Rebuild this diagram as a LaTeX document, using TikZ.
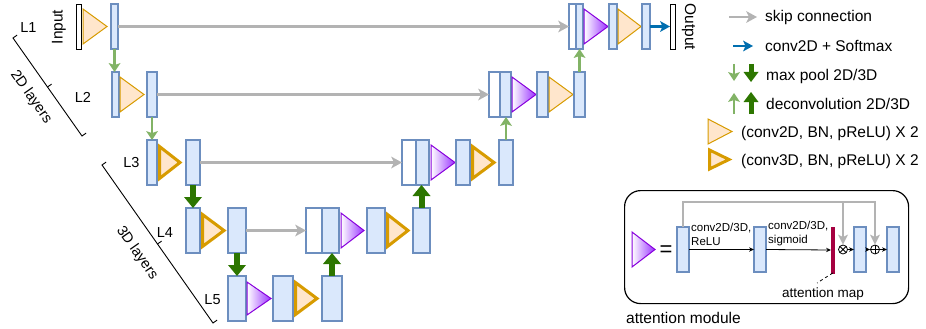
\documentclass[tikz,border=0pt]{standalone}
\usepackage{fontspec}
\setmainfont{Liberation Sans}
\usetikzlibrary{arrows.meta,calc}
\definecolor{barF}{HTML}{DAE8FC}
\definecolor{barS}{HTML}{6C8EBF}
\definecolor{orF}{HTML}{FFE6CC}
\definecolor{orS}{HTML}{D79B00}
\definecolor{grayA}{HTML}{B3B3B3}
\definecolor{lgreen}{HTML}{82B366}
\definecolor{dgreen}{HTML}{2D7600}
\definecolor{blueA}{HTML}{006EAF}
\definecolor{purpS}{HTML}{8800DD}
\definecolor{purpF}{HTML}{9933FF}
\definecolor{attred}{HTML}{A50040}
\begin{document}
\begin{tikzpicture}[x=1pt,y=-1pt,
  bar/.style={draw=barS, fill=barF, line width=1.2pt, inner sep=0pt, outer sep=0pt, minimum height=45pt, anchor=north west},
  wbar/.style={bar, fill=white},
  iobox/.style={bar, draw=black, fill=white, line width=0.9pt, minimum width=5pt},
  tritwo/.style={draw=orS, fill=orF, line width=1pt, line join=miter},
  trithree/.style={draw=orS, fill=orF, line width=3pt, line join=miter},
  attri/.style={draw=purpS, left color=white, right color=purpF, line width=1pt, line join=miter},
  skiparr/.style={draw=grayA, line width=2.5pt, -{Stealth[length=11pt,width=12pt,inset=3pt,line width=0pt]}},
  lgarr/.style={draw=lgreen, line width=2.5pt, -{Stealth[length=9pt,width=12pt,inset=2pt,line width=0pt]}},
  dgarr/.style={draw=dgreen, line width=6pt, -{Triangle[length=11pt,width=18pt,line width=0pt]}},
  dgleg/.style={draw=dgreen, line width=5pt, -{Triangle[length=10pt,width=15pt,line width=0pt]}},
  blarr/.style={draw=blueA, line width=2.5pt, -{Stealth[length=10pt,width=11pt,inset=2.5pt,line width=0pt]}},
  lbl/.style={font=\fontsize{14.5}{17}\selectfont, inner sep=0pt},
  iotxt/.style={font=\fontsize{15.5}{18}\selectfont, inner sep=0pt},
  legtxt/.style={font=\fontsize{15.5}{18}\selectfont, anchor=west, inner sep=0pt},
  smalltxt/.style={font=\fontsize{11.5}{14}\selectfont, align=left, anchor=west, inner sep=0pt},
  thinarr/.style={draw=black, line width=0.8pt, -{Stealth[length=5pt,width=4.5pt,line width=0pt]}},
  attskip/.style={draw=grayA, line width=2pt, -{Stealth[length=10pt,width=10pt,inset=2.5pt,line width=0pt]}},
  brk/.style={draw=black, line width=0.9pt},
  opnode/.style={circle, draw=black, line width=0.8pt, minimum size=9pt, inner sep=0pt, fill=white}
]
\useasboundingbox (0,0) rectangle (926,329);

% ---------- L1 ----------
\node[iobox] (inbox) at (76,4) {};
\node[iotxt, rotate=90] (intxt) at (59,27) {Input};
\draw[tritwo] (83,9) -- (107,26.5) -- (83,44) -- cycle;
\node[bar, minimum width=7pt] (e1a) at (111,4) {};
\node[wbar, minimum width=7pt] (d1w) at (569,4) {};
\node[bar, minimum width=7pt] (d1b) at (576,4) {};
\draw[attri] (584,9) -- (608,26.5) -- (584,44) -- cycle;
\node[bar, minimum width=8pt] (d1c) at (609,4) {};
\draw[tritwo] (618,9) -- (641,26.5) -- (618,44) -- cycle;
\node[bar, minimum width=8pt] (d1d) at (642,4) {};
\node[iobox] (outbox) at (670,4) {};
\node[iotxt, rotate=-90] (outtxt) at (689,27) {Output};

% ---------- L2 ----------
\node[bar, minimum width=7pt] (e2a) at (112,72) {};
\draw[tritwo] (120,77) -- (144,94.5) -- (120,112) -- cycle;
\node[bar, minimum width=10pt] (e2b) at (147,72) {};
\node[wbar, minimum width=11pt] (d2w) at (489,72) {};
\node[bar, minimum width=11pt] (d2b) at (500,72) {};
\draw[attri] (512,77) -- (536,94.5) -- (512,112) -- cycle;
\node[bar, minimum width=11pt] (d2c) at (537,72) {};
\draw[tritwo] (549,77) -- (573,94.5) -- (549,112) -- cycle;
\node[bar, minimum width=11pt] (d2d) at (574,72) {};

% ---------- L3 ----------
\node[bar, minimum width=10pt] (e3a) at (147,140) {};
\draw[trithree] (159.5,146.5) -- (180,162.5) -- (159.5,178.5) -- cycle;
\node[bar, minimum width=14pt] (e3b) at (186,140) {};
\node[wbar, minimum width=14pt] (d3w) at (402,140) {};
\node[bar, minimum width=13pt] (d3b) at (416,140) {};
\draw[attri] (431,145) -- (455,162.5) -- (431,180) -- cycle;
\node[bar, minimum width=14pt] (d3c) at (456,140) {};
\draw[trithree] (472.5,146.5) -- (494,162.5) -- (472.5,178.5) -- cycle;
\node[bar, minimum width=14pt] (d3d) at (499,140) {};

% ---------- L4 ----------
\node[bar, minimum width=14pt] (e4a) at (186,208) {};
\draw[trithree] (202.5,214.5) -- (224,230.5) -- (202.5,246.5) -- cycle;
\node[bar, minimum width=18pt] (e4b) at (228,208) {};
\node[wbar, minimum width=16pt] (d4w) at (306,208) {};
\node[bar, minimum width=17pt] (d4b) at (322,208) {};
\draw[attri] (341,213) -- (364,230.5) -- (341,248) -- cycle;
\node[bar, minimum width=18pt] (d4c) at (367,208) {};
\draw[trithree] (387.5,214.5) -- (408,230.5) -- (387.5,246.5) -- cycle;
\node[bar, minimum width=17pt] (d4d) at (413,208) {};

% ---------- L5 ----------
\node[bar, minimum width=18pt] (e5a) at (228,276) {};
\draw[attri] (247,282) -- (271,298.5) -- (247,315) -- cycle;
\node[bar, minimum width=20pt] (e5b) at (273,276) {};
\draw[trithree] (295.5,282.5) -- (317,298.5) -- (295.5,314.5) -- cycle;
\node[bar, minimum width=20pt] (e5c) at (322,276) {};

% ---------- level labels ----------
\node[lbl] (lab1) at (28.5,28) {L1};
\node[lbl] (lab2) at (83,97) {L2};
\node[lbl] (lab3) at (131.5,163) {L3};
\node[lbl] (lab4) at (165,233) {L4};
\node[lbl] (lab5) at (212.5,300) {L5};

% ---------- brackets ----------
\draw[brk] (17.1,35.1) -- (13,38) -- (82,136) -- (86.1,133.1);
\draw[brk] (47.5,87) -- (51.6,84.1);
\node[lbl, rotate=-55] (txt2d) at (31,97) {2D layers};
\draw[brk] (106.1,162.1) -- (102,165) -- (213,323) -- (217.1,320.1);
\draw[brk] (157.5,244) -- (161.6,241.1);
\node[lbl, rotate=-55] (txt3d) at (137,253) {3D layers};

% ---------- connectors ----------
\draw[skiparr] (e1a.east) -- (d1w.west);
\draw[skiparr] (e2b.east) -- (d2w.west);
\draw[skiparr] (e3b.east) -- (d3w.west);
\draw[skiparr] (e4b.east) -- (d4w.west);
\draw[lgarr] (e1a.south) -- (e1a.south |- e2a.north);
\draw[lgarr] (e2b.south) -- (e2b.south |- e3a.north);
\draw[dgarr] (e3b.south) -- (e3b.south |- e4a.north);
\draw[dgarr] (e4b.south) -- (e4b.south |- e5a.north);
\draw[dgarr] (e5c.north) -- (e5c.north |- d4b.south);
\draw[dgarr] (d4d.north) -- (d4d.north |- d3b.south);
\draw[lgarr] (d3d.north) -- (d3d.north |- d2b.south);
\draw[lgarr] (d2d.north) -- (d2d.north |- d1b.south);
\draw[blarr] (d1d.east) -- (outbox.west);

% ---------- legend ----------
\coordinate (k1a) at (729,17); \coordinate (k1b) at (757,17);
\draw[skiparr] (k1a) -- (k1b);
\node[legtxt] (k1t) at (765,17) {skip connection};
\coordinate (k2a) at (733,46); \coordinate (k2b) at (753,46);
\draw[blarr] (k2a) -- (k2b);
\node[legtxt] (k2t) at (765,46) {conv2D + Softmax};
\coordinate (k3a) at (734,64); \coordinate (k3b) at (734,81);
\draw[lgarr] (k3a) -- (k3b);
\coordinate (k3c) at (751,64); \coordinate (k3d) at (751,82);
\draw[dgleg] (k3c) -- (k3d);
\node[legtxt] (k3t) at (766,76) {max pool 2D/3D};
\coordinate (k4a) at (734,114); \coordinate (k4b) at (734,93);
\draw[lgarr] (k4a) -- (k4b);
\coordinate (k4c) at (751,114); \coordinate (k4d) at (751,92);
\draw[dgleg] (k4c) -- (k4d);
\node[legtxt] (k4t) at (766,104) {deconvolution 2D/3D};
\draw[tritwo] (708,119) -- (732,131.5) -- (708,144) -- cycle;
\node[legtxt] (k5t) at (741,133) {(conv2D, BN, pReLU) X 2};
\draw[trithree] (709.5,150) -- (729,159.5) -- (709.5,169) -- cycle;
\node[legtxt] (k6t) at (741,161) {(conv3D, BN, pReLU) X 2};

% ---------- attention module ----------
\node[draw=black, line width=1.2pt, rounded corners=16pt, minimum width=284pt, minimum height=113pt, anchor=north west, inner sep=0pt] (attbox) at (624,190) {};
\draw[attri] (632,232) -- (655,249.5) -- (632,267) -- cycle;
\node[font=\fontsize{22}{22}\selectfont, inner sep=0pt] (eq) at (666,251) {=};
\node[bar, minimum width=12pt] (a1) at (677,227) {};
\node[bar, minimum width=12pt] (a2) at (754,227) {};
\node[fill=attred, draw=attred, inner sep=0pt, outer sep=0pt, minimum width=3.5pt, minimum height=46pt, anchor=north west] (amap) at (831,227) {};
\node[opnode, path picture={\draw[line width=0.8pt] (path picture bounding box.north west) -- (path picture bounding box.south east) (path picture bounding box.north east) -- (path picture bounding box.south west);}] (otimes) at (843,249.5) {};
\node[bar, minimum width=12pt] (a3) at (854,227) {};
\node[opnode, path picture={\draw[line width=0.8pt] (path picture bounding box.north) -- (path picture bounding box.south) (path picture bounding box.east) -- (path picture bounding box.west);}] (oplus) at (875,249.5) {};
\node[bar, minimum width=12pt] (a4) at (887,227) {};
\draw[thinarr] (a1.east) -- (a2.west);
\draw[thinarr] (a2.east) -- (amap.west);
\draw[thinarr] (otimes.east) -- (a3.west);
\draw[thinarr] (a3.east) -- (oplus.west);
\draw[thinarr] (oplus.east) -- (a4.west);
\draw[attskip] (a1.north) -- ++(0,-25) -| (otimes.north);
\draw[attskip] (a1.north) -- ++(0,-25) -| (oplus.north);
\node[smalltxt] (c1) at (691,234) {conv2D/3D,\\ReLU};
\node[smalltxt] (c2) at (768,234) {conv2D/3D,\\sigmoid};
\coordinate (mapend) at (817,283);
\draw[dashed, line width=0.8pt] (amap.south) -- (mapend);
\node[font=\fontsize{13.5}{16}\selectfont, inner sep=0pt] (maptxt) at (823,294) {attention map};
\node[legtxt] (modtxt) at (626,318) {attention module};
\end{tikzpicture}
\end{document}
